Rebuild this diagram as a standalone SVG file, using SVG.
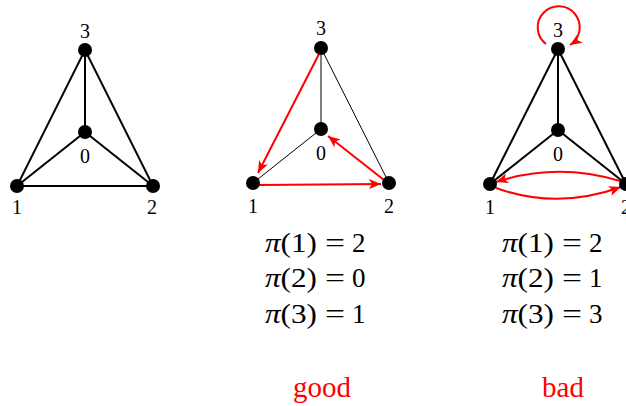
<svg xmlns="http://www.w3.org/2000/svg" width="626" height="406" viewBox="0 0 626 406">
<style>
.e{stroke:#000;stroke-width:2;fill:none}
.t{stroke:#000;stroke-width:1;fill:none}
.r{stroke:#f00;stroke-width:2;fill:none;marker-end:url(#ah)}
.n{fill:#000}
.lb{font-family:"Liberation Serif","DejaVu Serif",serif;font-size:20px;text-anchor:middle;fill:#000}
.eq{font-family:"Liberation Serif","DejaVu Serif",serif;font-size:27px;fill:#000}
.eq .pi{font-style:italic}
.eqs{font-family:"Liberation Serif","DejaVu Serif",serif;font-size:27px;fill:#000}
.cap{font-family:"Liberation Serif","DejaVu Serif",serif;font-size:29px;text-anchor:middle;fill:#f00}
</style>
<defs>
<marker id="ah" markerUnits="userSpaceOnUse" markerWidth="13" markerHeight="10" refX="12" refY="5" orient="auto">
<path d="M0,0 L12,5 L0,10 L3,5 z" fill="#f00"/>
</marker>
</defs>
<g id="connectors">
<g id="g1-edges">
<line class="e" x1="85" y1="50" x2="85" y2="132"/>
<line class="e" x1="85" y1="50" x2="17" y2="186"/>
<line class="e" x1="85" y1="50" x2="153" y2="186"/>
<line class="e" x1="85" y1="132" x2="17" y2="186"/>
<line class="e" x1="85" y1="132" x2="153" y2="186"/>
<line class="e" x1="17" y1="186" x2="153" y2="186"/>
</g>
<g id="g2-edges">
<line class="t" x1="321" y1="48" x2="321" y2="129"/>
<line class="t" x1="321" y1="48" x2="389" y2="183"/>
<line class="t" x1="321" y1="129" x2="253" y2="183"/>
<path class="r" d="M319,54 L258,173"/>
<path class="r" d="M258,185 L381,184"/>
<path class="r" d="M384,180 L328,136"/>
</g>
<g id="g3-edges">
<line class="e" x1="558" y1="49" x2="558" y2="130"/>
<line class="e" x1="558" y1="49" x2="490" y2="184"/>
<line class="e" x1="558" y1="49" x2="626" y2="184"/>
<line class="e" x1="558" y1="130" x2="490" y2="184"/>
<line class="e" x1="558" y1="130" x2="626" y2="184"/>
<path class="r" d="M546,44 A21,21 0 1 1 570,45"/>
<path class="r" d="M620,181 Q557,162 496,182"/>
<path class="r" d="M496,188 Q557,210 621,187"/>
</g>
</g>
<g id="graph1">
<g id="g1-n3"><circle class="n" cx="85" cy="50" r="7"/><text class="lb" x="85" y="38">3</text></g>
<g id="g1-n0"><circle class="n" cx="85" cy="132" r="7"/><text class="lb" x="85" y="163">0</text></g>
<g id="g1-n1"><circle class="n" cx="17" cy="186" r="7"/><text class="lb" x="17" y="214">1</text></g>
<g id="g1-n2"><circle class="n" cx="153" cy="186" r="7"/><text class="lb" x="152" y="214">2</text></g>
</g>
<g id="graph2">
<g id="g2-n3"><circle class="n" cx="321" cy="48" r="7"/><text class="lb" x="321" y="35">3</text></g>
<g id="g2-n0"><circle class="n" cx="321" cy="129" r="7"/><text class="lb" x="321" y="160">0</text></g>
<g id="g2-n1"><circle class="n" cx="253" cy="183" r="7"/><text class="lb" x="253" y="213">1</text></g>
<g id="g2-n2"><circle class="n" cx="389" cy="183" r="7"/><text class="lb" x="389" y="213">2</text></g>
<g id="g2-eqs">
<text class="eq" x="265" y="252" textLength="52" lengthAdjust="spacingAndGlyphs"><tspan class="pi">π</tspan>(1)</text>
<text class="eqs" x="325" y="252" textLength="20" lengthAdjust="spacingAndGlyphs">=</text>
<text class="eq" x="352" y="252">2</text>
<text class="eq" x="265" y="287" textLength="52" lengthAdjust="spacingAndGlyphs"><tspan class="pi">π</tspan>(2)</text>
<text class="eqs" x="325" y="287" textLength="20" lengthAdjust="spacingAndGlyphs">=</text>
<text class="eq" x="352" y="287">0</text>
<text class="eq" x="265" y="323" textLength="52" lengthAdjust="spacingAndGlyphs"><tspan class="pi">π</tspan>(3)</text>
<text class="eqs" x="325" y="323" textLength="20" lengthAdjust="spacingAndGlyphs">=</text>
<text class="eq" x="352" y="323">1</text>
</g>
<text class="cap" x="322" y="397">good</text>
</g>
<g id="graph3">
<g id="g3-n3"><circle class="n" cx="558" cy="49" r="7"/><text class="lb" x="558" y="37">3</text></g>
<g id="g3-n0"><circle class="n" cx="558" cy="130" r="7"/><text class="lb" x="558" y="161">0</text></g>
<g id="g3-n1"><circle class="n" cx="490" cy="184" r="7"/><text class="lb" x="490" y="214">1</text></g>
<g id="g3-n2"><circle class="n" cx="626" cy="184" r="7"/><text class="lb" x="626" y="214">2</text></g>
<g id="g3-eqs">
<text class="eq" x="502" y="252" textLength="52" lengthAdjust="spacingAndGlyphs"><tspan class="pi">π</tspan>(1)</text>
<text class="eqs" x="562" y="252" textLength="20" lengthAdjust="spacingAndGlyphs">=</text>
<text class="eq" x="589" y="252">2</text>
<text class="eq" x="502" y="287" textLength="52" lengthAdjust="spacingAndGlyphs"><tspan class="pi">π</tspan>(2)</text>
<text class="eqs" x="562" y="287" textLength="20" lengthAdjust="spacingAndGlyphs">=</text>
<text class="eq" x="589" y="287">1</text>
<text class="eq" x="502" y="323" textLength="52" lengthAdjust="spacingAndGlyphs"><tspan class="pi">π</tspan>(3)</text>
<text class="eqs" x="562" y="323" textLength="20" lengthAdjust="spacingAndGlyphs">=</text>
<text class="eq" x="589" y="323">3</text>
</g>
<text class="cap" x="563" y="397">bad</text>
</g>
</svg>
